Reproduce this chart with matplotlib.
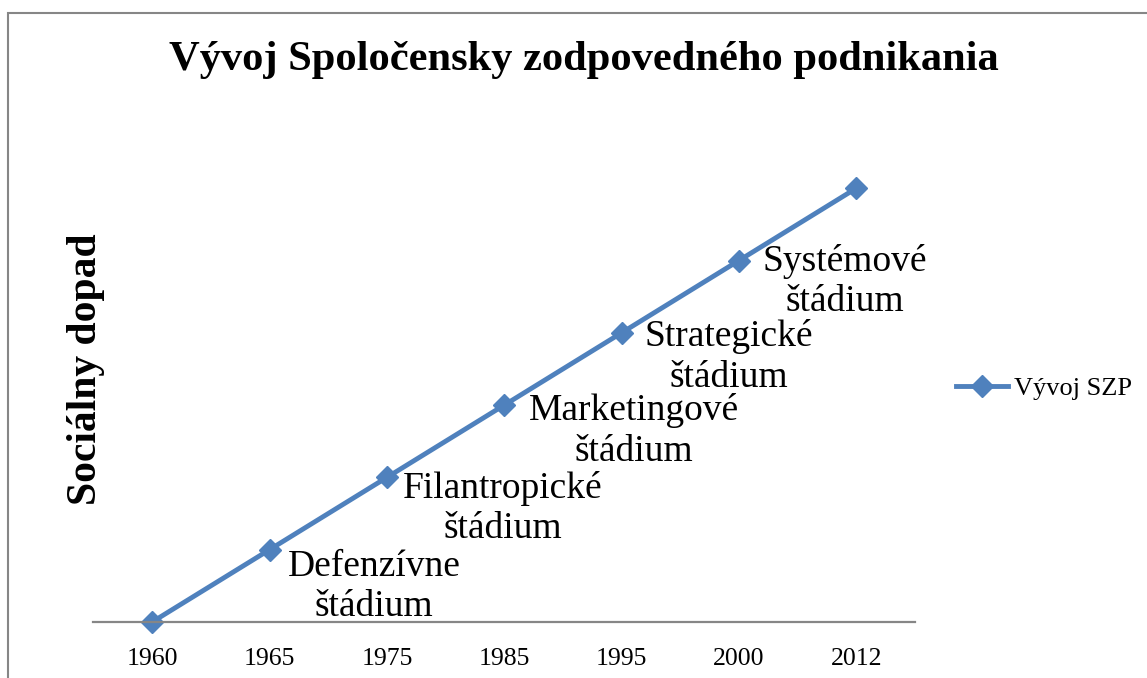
import matplotlib.pyplot as plt
from matplotlib.patches import Rectangle

years = ["1960", "1965", "1975", "1985", "1995", "2000", "2012"]
impact = [0, 1, 2, 3, 4, 5, 6]
stages = ["", "Defenzívne\nštádium", "Filantropické\nštádium", "Marketingové\nštádium",
          "Strategické\nštádium", "Systémové\nštádium", ""]

# label offsets from the marker, in points (labels were hand-placed in the original)
label_dx = [0, 13, 11.5, 18, 16.5, 17.3, 0]
label_dy = [0, -26.6, -22.3, -18.7, -17.3, -15.1, 0]

plt.rcParams['font.family'] = ['Liberation Serif', 'DejaVu Serif']

fig = plt.figure(figsize=(11.47, 6.78), dpi=100)
ax = fig.add_axes([0.0815, 0.0826, 0.7162, 0.7464])

x = list(range(len(years)))
ax.plot(x, impact, color='#4F81BD', linewidth=3.5, marker='D', markersize=11.5,
        label='Vývoj SZP')

for xi, yi, s, dx, dy in zip(x, impact, stages, label_dx, label_dy):
    if s:
        ax.annotate(s, (xi, yi), xytext=(dx, dy), textcoords='offset points',
                    ha='left', va='center', multialignment='center',
                    fontsize=27, linespacing=1.22)

ax.set_xlim(-0.5, len(years) - 0.5)
ax.set_ylim(0, 7)
ax.set_xticks(x)
ax.set_xticklabels(years, fontsize=18.5)
ax.tick_params(axis='x', length=0, pad=19)
ax.set_yticks([])
for side in ['top', 'right', 'left']:
    ax.spines[side].set_visible(False)
ax.spines['bottom'].set_color('#868686')
ax.spines['bottom'].set_linewidth(1.6)
for art in ax.lines:
    art.set_clip_on(False)

ax.set_ylabel('Sociálny dopad', fontsize=30, fontweight='bold')
ax.yaxis.set_label_coords(0.014, 0.5)

fig.text(0.509, 0.912, 'Vývoj Spoločensky zodpovedného podnikania',
         fontsize=30.6, fontweight='bold', ha='center', va='center')

fig.legend(loc='center left', bbox_to_anchor=(0.8125, 1 - 388 / 678),
           frameon=False, fontsize=19, handlelength=2.0, handletextpad=0.2)

fig.patches.append(Rectangle((8 / 1147, -0.1), 1.2, 1.1 - 13 / 678,
                             transform=fig.transFigure, fill=False,
                             edgecolor='#868686', linewidth=1.5))

fig.savefig('out.png', dpi=100)
